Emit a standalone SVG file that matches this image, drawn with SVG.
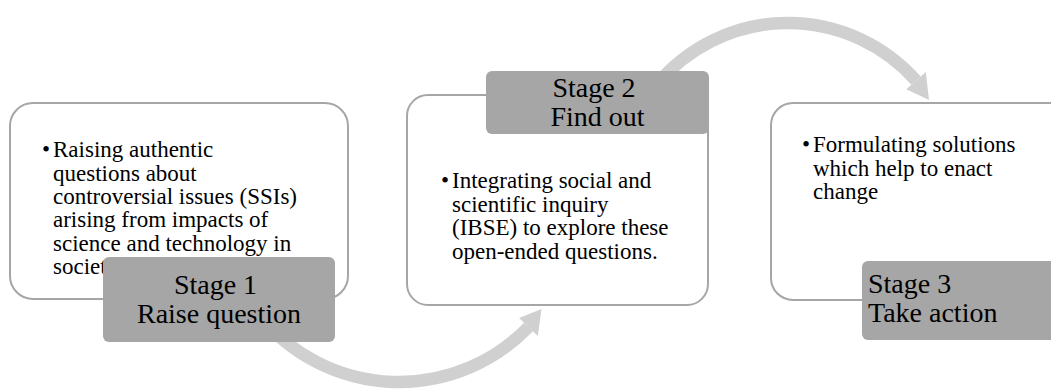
<svg xmlns="http://www.w3.org/2000/svg" width="1051" height="390" viewBox="0 0 1051 390">
  <style>
    .box { fill: #ffffff; stroke: #a6a6a6; stroke-width: 2; }
    .label { fill: #a6a6a6; }
    .arc { fill: none; stroke: #d0d0d0; stroke-width: 12.5; }
    .head { fill: #d0d0d0; }
    .body { font-family: "Liberation Serif", "Times New Roman", serif; font-size: 23px; fill: #000; }
    .title { font-family: "Liberation Serif", "Times New Roman", serif; font-size: 28px; fill: #000; }
  </style>
  <rect width="1051" height="390" fill="#ffffff"/>
  <g id="connectors">
    <path class="arc" d="M 261.1 317.7 A 180 180 0 0 0 528.5 327"/>
    <polygon class="head" points="537.8,336.1 519.1,318 541.5,309"/>
    <path class="arc" d="M 657 84.1 A 171 171 0 0 1 916.1 80.7"/>
    <polygon class="head" points="925.8,72.1 906.3,89.3 929,100"/>
  </g>
  <g id="stage1">
    <rect class="box" x="10" y="103" width="338" height="196" rx="23"/>
    <text class="body" x="42" y="157">•</text>
    <text class="body">
      <tspan x="53" y="157">Raising authentic</tspan>
      <tspan x="53" y="180.5">questions about</tspan>
      <tspan x="53" y="204">controversial issues (SSIs)</tspan>
      <tspan x="53" y="227">arising from impacts of</tspan>
      <tspan x="53" y="250.5">science and technology in</tspan>
      <tspan x="53" y="274">society</tspan>
    </text>
    <rect class="label" x="103" y="257" width="232" height="85" rx="6"/>
    <text class="title" text-anchor="middle">
      <tspan x="219" y="294">Stage 1</tspan>
      <tspan x="219" y="323">Raise question</tspan>
    </text>
  </g>
  <g id="stage2">
    <rect class="box" x="407" y="95" width="301" height="210" rx="21"/>
    <text class="body" x="441" y="188">•</text>
    <text class="body">
      <tspan x="452" y="188">Integrating social and</tspan>
      <tspan x="452" y="211.5">scientific inquiry</tspan>
      <tspan x="452" y="235">(IBSE) to explore these</tspan>
      <tspan x="452" y="258.5">open-ended questions.</tspan>
    </text>
    <rect class="label" x="486" y="71" width="223" height="63" rx="6"/>
    <text class="title" text-anchor="middle">
      <tspan x="597.5" y="97">Stage 2</tspan>
      <tspan x="597.5" y="125.5">Find out</tspan>
    </text>
  </g>
  <g id="stage3">
    <rect class="box" x="771" y="103" width="300" height="197" rx="22"/>
    <text class="body" x="802" y="152">•</text>
    <text class="body">
      <tspan x="813" y="152">Formulating solutions</tspan>
      <tspan x="813" y="175.5">which help to enact</tspan>
      <tspan x="813" y="199">change</tspan>
    </text>
    <rect class="label" x="862" y="261" width="200" height="79" rx="6"/>
    <text class="title">
      <tspan x="868" y="293">Stage 3</tspan>
      <tspan x="868" y="322">Take action</tspan>
    </text>
  </g>
</svg>
